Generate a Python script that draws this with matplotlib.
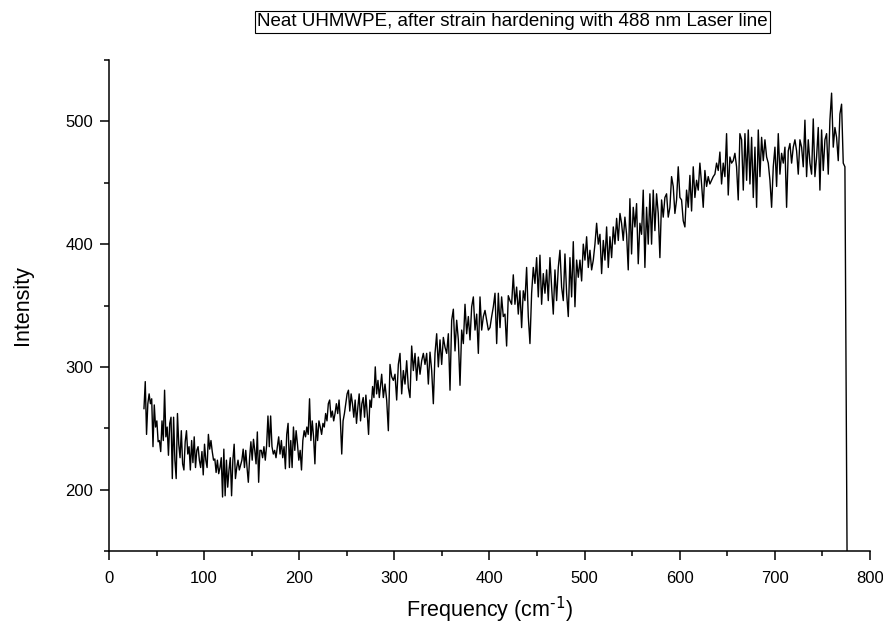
import numpy as np
import matplotlib
matplotlib.use('Agg')
from matplotlib import pyplot as plt
from matplotlib.ticker import MultipleLocator

# spectrum, split into blocks of evenly spaced points
# (start / end wavenumber of each block, then the intensities)
seg_start = [36.8, 160.1, 286.7, 412.8, 538.9, 665.1]
seg_end = [158.7, 284.2, 411.1, 537.2, 663.3, 773.7]

int_1 = [266, 288, 245, 270, 278, 270, 274, 235, 269, 251, 256, 239, 240, 231,
         256, 240, 281, 243, 251, 228, 254, 259, 209, 259, 224, 209, 262, 237,
         226, 248, 221, 216, 239, 248, 229, 235, 216, 240, 222, 243, 218, 232,
         235, 224, 218, 231, 212, 237, 224, 218, 245, 233, 240, 231, 224, 225,
         214, 224, 213, 218, 226, 194, 233, 195, 224, 202, 216, 226, 195, 224,
         237, 209, 218, 224, 216, 220, 224, 233, 218, 232, 218, 206, 226, 239,
         224, 241, 232, 221, 247, 206, 232]
int_2 = [232, 226, 235, 224, 236, 260, 235, 260, 235, 229, 232, 226, 235, 243,
         229, 240, 226, 235, 217, 245, 254, 218, 240, 218, 251, 232, 248, 237,
         224, 232, 216, 240, 248, 243, 251, 245, 274, 240, 256, 243, 221, 254,
         240, 256, 251, 245, 254, 251, 262, 256, 270, 273, 259, 264, 256, 262,
         270, 262, 273, 256, 229, 256, 262, 270, 278, 281, 264, 278, 270, 259,
         273, 254, 267, 278, 256, 270, 275, 259, 277, 262, 245, 273, 267, 284,
         275, 300, 278, 289, 275]
int_3 = [294, 275, 286, 273, 248, 302, 292, 289, 294, 273, 302, 311, 278, 297,
         286, 305, 283, 275, 317, 297, 311, 289, 308, 294, 305, 311, 302, 311,
         286, 312, 297, 270, 311, 327, 300, 322, 302, 324, 316, 311, 327, 281,
         338, 347, 313, 338, 322, 285, 330, 319, 351, 327, 341, 322, 349, 357,
         330, 343, 311, 357, 330, 341, 346, 338, 330, 332, 341, 349, 360, 319,
         360, 332]
int_4 = [357, 341, 343, 317, 358, 354, 351, 375, 351, 365, 343, 362, 332, 362,
         354, 381, 341, 319, 360, 381, 368, 389, 357, 391, 351, 376, 360, 379,
         354, 389, 365, 343, 379, 354, 381, 395, 365, 354, 392, 360, 341, 389,
         357, 402, 349, 387, 373, 387, 370, 400, 387, 406, 381, 395, 379, 387,
         400, 417, 400, 408, 376, 403, 387, 414, 381, 406, 389, 414, 400, 421,
         403, 425]
int_5 = [417, 403, 422, 408, 379, 437, 392, 430, 414, 433, 384, 417, 408, 444,
         381, 430, 400, 441, 400, 444, 411, 441, 425, 389, 436, 422, 438, 441,
         422, 430, 455, 447, 425, 436, 463, 438, 436, 419, 414, 444, 430, 456,
         427, 463, 438, 452, 444, 466, 449, 430, 460, 447, 455, 449, 452, 455,
         457, 466, 460, 475, 449, 466, 455, 490, 440, 471, 466, 468, 474, 463,
         436, 490]
int_6 = [485, 444, 490, 452, 493, 449, 487, 438, 479, 430, 493, 455, 487, 468,
         485, 471, 466, 452, 430, 463, 479, 447, 490, 457, 474, 466, 479, 430,
         476, 482, 466, 479, 485, 476, 457, 485, 479, 463, 501, 455, 485, 466,
         457, 502, 455, 471, 495, 444, 493, 460, 485, 490, 457, 501, 523, 479,
         495, 487, 468, 506, 514, 466, 463]
# detector cut-off at the red end
tail_x = [777.0]
tail_y = [0]

blocks = [int_1, int_2, int_3, int_4, int_5, int_6]

freq = np.concatenate([np.linspace(a, b, len(v)) for a, b, v in zip(seg_start, seg_end, blocks)] + [tail_x])
intensity = np.concatenate([np.array(v, dtype=float) for v in blocks] + [tail_y])

plt.rcParams['font.family'] = ['Liberation Sans', 'DejaVu Sans']

fig = plt.figure(figsize=(8.83, 6.27), dpi=100)
ax = fig.add_axes([0.1234, 0.1212, 0.8618, 0.7831])

ax.plot(freq, intensity, color='black', linewidth=1.0)

ax.set_xlim(0, 800)
ax.set_ylim(150, 550)
ax.xaxis.set_major_locator(MultipleLocator(100))
ax.xaxis.set_minor_locator(MultipleLocator(50))
ax.yaxis.set_major_locator(MultipleLocator(100))
ax.yaxis.set_minor_locator(MultipleLocator(50))
ax.set_yticks([200, 300, 400, 500])

for s in ['top', 'right']:
    ax.spines[s].set_visible(False)
for s in ['left', 'bottom']:
    ax.spines[s].set_linewidth(1.1)

ax.tick_params(which='major', direction='out', length=6.5, width=1.1, labelsize=12)
ax.tick_params(which='minor', direction='out', length=3.5, width=1.1)
ax.tick_params(axis='x', which='major', pad=8)
ax.tick_params(axis='y', which='major', pad=5)

ax.set_xlabel('Frequency (cm$^{\\text{-1}}$)', fontsize=15.5, labelpad=6)
ax.set_ylabel('Intensity', fontsize=15.5, labelpad=23)

fig.text(0.58, 0.965, 'Neat UHMWPE, after strain hardening with 488 nm Laser line',
         ha='center', va='center', fontsize=13.5,
         bbox=dict(boxstyle='square,pad=0.12', facecolor='white', edgecolor='black', linewidth=0.8))

fig.savefig('out.png', dpi=100)
